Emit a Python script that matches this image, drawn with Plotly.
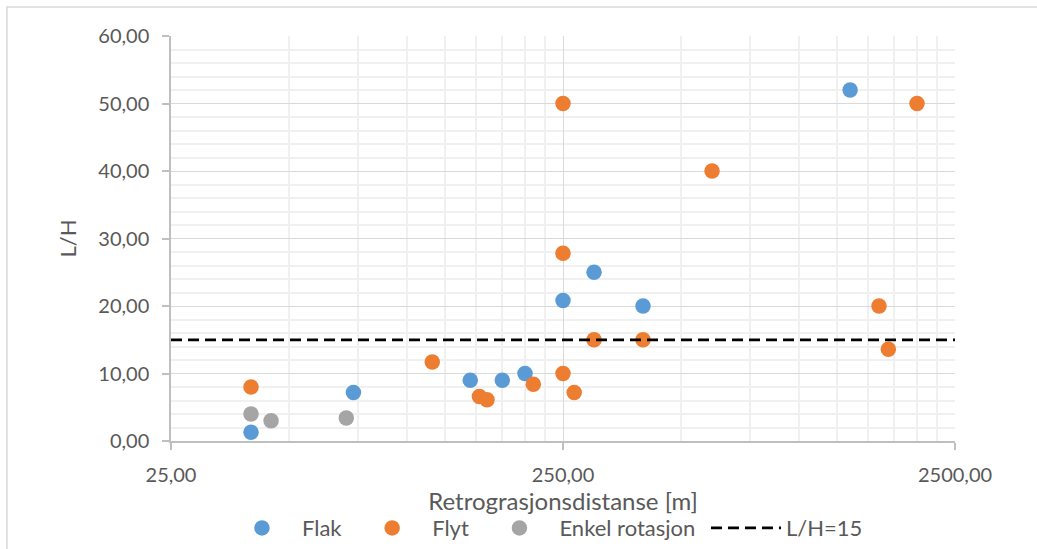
import plotly.graph_objects as go

# Retrogression distance [m] and L/H ratio per slide type
flak_dist = [40, 73, 145, 175, 200, 250, 300, 400, 1350]
flak_lh = [1.3, 7.2, 9.0, 9.0, 10.0, 20.8, 25.0, 20.0, 52.0]

flyt_dist = [40, 116, 153, 160, 210, 250, 250, 250, 267, 300, 400, 600, 1600, 1690, 2000]
flyt_lh = [8.0, 11.7, 6.6, 6.1, 8.4, 50.0, 27.8, 10.0, 7.2, 15.0, 15.0, 40.0, 20.0, 13.6, 50.0]

enkel_dist = [40, 45, 70]
enkel_lh = [4.0, 3.0, 3.4]

# Reference line L/H = 15
ref_dist = [25, 2500]
ref_lh = [15, 15]

x_ticks = [25, 250, 2500]
x_minor = [50, 75, 100, 125, 150, 175, 200, 225,
           500, 750, 1000, 1250, 1500, 1750, 2000, 2250]

FONT = "Lato"
TXT = "#595959"
AXIS = "#bfbfbf"
GRID = "#d9d9d9"
GRID_MINOR = "#f0f0f0"
PAD = "\u00a0"  # extra room between legend entries

fig = go.Figure()
fig.add_trace(go.Scatter(x=flak_dist, y=flak_lh, mode="markers", name="Flak" + PAD,
                         marker=dict(color="#5B9BD5", size=15.5, line=dict(width=0))))
fig.add_trace(go.Scatter(x=flyt_dist, y=flyt_lh, mode="markers", name="Flyt" + PAD,
                         marker=dict(color="#ED7D31", size=15.5, line=dict(width=0))))
fig.add_trace(go.Scatter(x=enkel_dist, y=enkel_lh, mode="markers", name="Enkel rotasjon" + PAD,
                         marker=dict(color="#A5A5A5", size=15.5, line=dict(width=0))))
fig.add_trace(go.Scatter(x=ref_dist, y=ref_lh, mode="lines", name="L/H=15",
                         line=dict(color="black", width=2.75, dash="11px,6px")))

fig.update_xaxes(
    type="log", range=[1.39794, 3.39794], automargin=False,
    tickmode="array", tickvals=x_ticks, tickformat=".2f",
    showgrid=True, gridcolor=GRID, gridwidth=1,
    minor=dict(tickmode="array", tickvals=x_minor, showgrid=True,
               gridcolor=GRID_MINOR, gridwidth=1.5, ticklen=0),
    showline=True, linecolor=AXIS, linewidth=1.5,
    ticks="outside", ticklen=7, tickcolor=AXIS, tickwidth=1.5,
    ticklabelstandoff=8,
    tickfont=dict(family=FONT, size=20, color=TXT),
    title=dict(text="Retrograsjonsdistanse [m]", standoff=6,
               font=dict(family=FONT, size=24, color=TXT)),
    zeroline=False,
)
fig.update_yaxes(
    range=[0, 60], dtick=10, tickformat=".2f", automargin=False,
    showgrid=True, gridcolor=GRID, gridwidth=1,
    minor=dict(dtick=2, showgrid=True, gridcolor=GRID_MINOR, gridwidth=1.5, ticklen=0),
    showline=True, linecolor=AXIS, linewidth=1.5,
    ticks="outside", ticklen=7, tickcolor=AXIS, tickwidth=1.5,
    ticklabelstandoff=9,
    tickfont=dict(family=FONT, size=20, color=TXT),
    title=dict(text="L/H", standoff=16, font=dict(family=FONT, size=22, color=TXT)),
    zeroline=False,
)

# Light border around the chart area
fig.add_shape(type="rect", xref="paper", yref="paper",
              x0=-0.2092, x1=1.2, y0=-0.4, y1=1.0716,
              line=dict(color="#d9d9d9", width=1.5), fillcolor="rgba(0,0,0,0)", layer="below")

fig.update_layout(
    width=1037, height=549,
    margin=dict(l=171, r=82, t=36, b=108, autoexpand=False),
    paper_bgcolor="white", plot_bgcolor="white",
    separators=", ",
    font=dict(family=FONT, color=TXT),
    legend=dict(orientation="h", x=0.477, xanchor="center", y=-0.215, yanchor="middle",
                font=dict(family=FONT, size=22, color=TXT), itemwidth=70,
                bgcolor="rgba(0,0,0,0)"),
)

fig.write_html("out.html")
